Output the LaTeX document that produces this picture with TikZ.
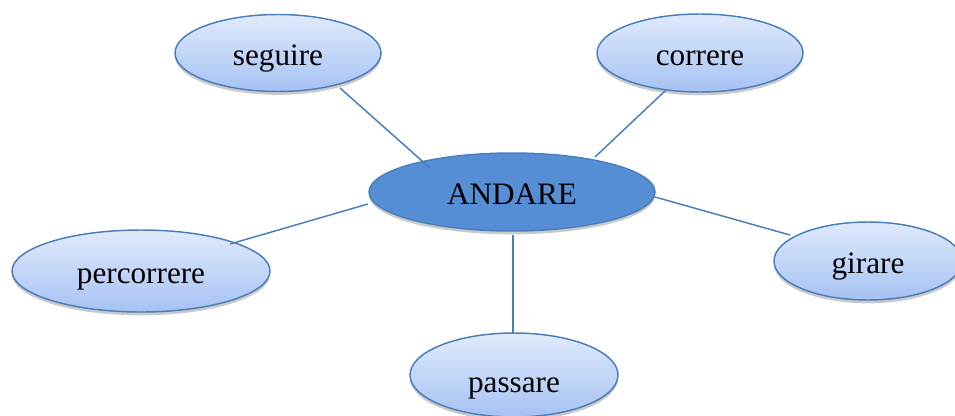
\documentclass[tikz,border=0pt]{standalone}
\usepackage{fontspec}
\setmainfont{Liberation Serif}
\usetikzlibrary{shapes.geometric,shadows,calc}
\definecolor{lt}{HTML}{E0EAFC}
\definecolor{dk}{HTML}{A6C2F3}
\definecolor{bd}{HTML}{4A7EBB}
\definecolor{cen}{HTML}{558ED5}
\tikzset{
  leaf/.style={ellipse, draw=bd, line width=1.1pt, top color=lt, bottom color=dk,
    inner sep=0pt, font=\fontsize{23.4}{28}\selectfont, text height=21.5pt, text depth=2.5pt,
    drop shadow={shadow xshift=0pt, shadow yshift=-2.5pt, opacity=0.35, fill=black!60}},
  hub/.style={ellipse, draw=bd, line width=1.1pt, fill=cen,
    inner sep=0pt, font=\fontsize{23.4}{28}\selectfont, text height=21pt, text depth=3pt,
    drop shadow={shadow xshift=0pt, shadow yshift=-2.5pt, opacity=0.35, fill=black!60}},
  conn/.style={draw=bd, line width=1.1pt}
}
\begin{document}
\begin{tikzpicture}[x=0.75pt,y=-0.75pt]
\useasboundingbox (0,0) rectangle (955,415);
\clip (0,0) rectangle (955,415);
\node[hub, minimum width=214.5pt, minimum height=58.5pt] (and) at (512,192) {ANDARE};
\node[leaf, minimum width=154.5pt, minimum height=57.75pt] (seg) at (278,53) {seguire};
\node[leaf, minimum width=154.5pt, minimum height=58.5pt] (cor) at (700,53) {correre};
\node[leaf, minimum width=193.5pt, minimum height=61.5pt] (per) at (141,271) {percorrere};
\node[leaf, minimum width=141pt, minimum height=58.5pt] (gir) at (868,261) {girare};
\node[leaf, minimum width=156pt, minimum height=63pt, text height=28pt] (pas) at (514,375) {passare};
\draw[conn] ($(seg)+(62,35)$) -- ($(and)+(-82,-24)$);
\draw[conn] ($(cor)+(-34,37)$) -- ($(and)+(83,-35)$);
\draw[conn] ($(per)+(89,-27)$) -- ($(and)+(-144,12)$);
\draw[conn] ($(gir)+(-78,-26)$) -- ($(and)+(143,5)$);
\draw[conn] ($(pas)+(-1,-42)$) -- ($(and)+(1,43)$);
\end{tikzpicture}
\end{document}
